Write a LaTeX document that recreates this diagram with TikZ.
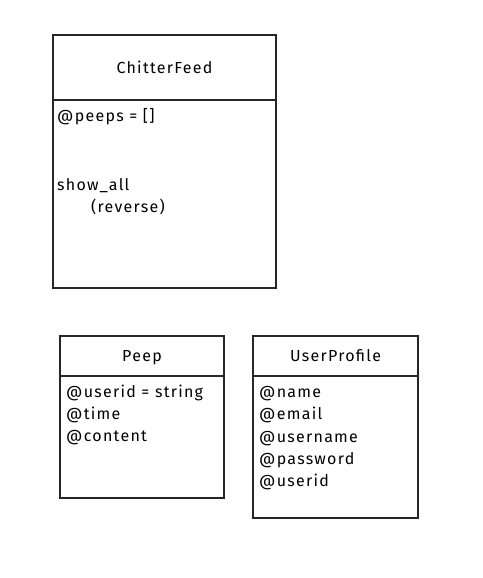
\documentclass[tikz,border=0pt]{standalone}
\usepackage{fontspec}
\setmainfont{Fira Sans}[LetterSpace=8]
\begin{document}
\begin{tikzpicture}[x=1pt,y=-1pt,
  box/.style={draw=black!85, line width=1.3pt},
  lbl/.style={anchor=base west, inner sep=0pt, font=\fontsize{16}{19}\selectfont},
  ttl/.style={anchor=base, inner sep=0pt, font=\fontsize{16}{19}\selectfont}]
\useasboundingbox[fill=white] (0,0) rectangle (482,578);
% ChitterFeed
\draw[box] (53,35) rectangle (276,100);
\draw[box] (53,100) rectangle (276,288);
\node[ttl] (cfT) at (164.5,74) {ChitterFeed};
\node[lbl] (cf1) at (57,121) {@peeps = []};
\node[lbl] (cf2) at (57,190) {show\_all};
\node[lbl] (cf3) at (91,212) {(reverse)};
% Peep
\draw[box] (60,336) rectangle (224,376);
\draw[box] (60,376) rectangle (224,498);
\node[ttl] (pT) at (142,361) {Peep};
\node[lbl] (p1) at (66,397) {@userid = string};
\node[lbl] (p2) at (66,419) {@time};
\node[lbl] (p3) at (66,441) {@content};
% UserProfile
\draw[box] (253,336) rectangle (418,376);
\draw[box] (253,376) rectangle (418,518);
\node[ttl] (uT) at (335.5,361) {UserProfile};
\node[lbl] (u1) at (259,397) {@name};
\node[lbl] (u2) at (259,419) {@email};
\node[lbl] (u3) at (259,442) {@username};
\node[lbl] (u4) at (259,464) {@password};
\node[lbl] (u5) at (259,486) {@userid};
\end{tikzpicture}
\end{document}
